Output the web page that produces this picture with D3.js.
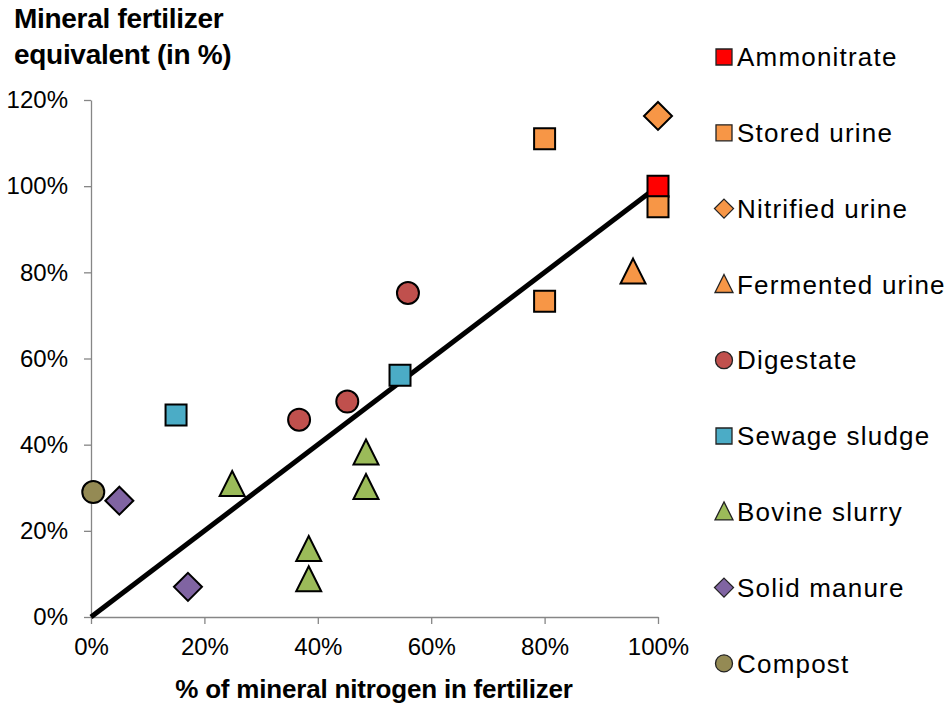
<!DOCTYPE html>
<html>
<head>
<meta charset="utf-8">
<script src="https://cdn.jsdelivr.net/npm/d3@7"></script>
<style>
body { margin: 0; background: #fff; }
text { font-family: "Liberation Sans", Arial, sans-serif; fill: #000; }
</style>
</head>
<body>
<div id="chart"></div>
<script>
var width = 947;
var height = 704;

// series: name, colour, shape
var seriesNames  = ["Ammonitrate", "Stored urine", "Nitrified urine", "Fermented urine", "Digestate", "Sewage sludge", "Bovine slurry", "Solid manure", "Compost"];
var seriesColors = ["#FF0000", "#F79646", "#F79646", "#F79646", "#C0504D", "#4BACC6", "#9BBB59", "#8064A2", "#948A54"];
var seriesShapes = ["square", "square", "diamond", "triangle", "circle", "square", "triangle", "diamond", "circle"];

// points per series: [% mineral N, mineral fertilizer equivalent %]
var ammonitrate    = [[100, 100]];
var storedUrine    = [[80, 111], [80, 73.3], [100, 95.2]];
var nitrifiedUrine = [[100, 116.3]];
var fermentedUrine = [[95.6, 80]];
var digestate      = [[36.7, 45.8], [45.2, 50], [55.9, 75.2]];
var sewageSludge   = [[15, 46.9], [54.5, 56.1]];
var bovineSlurry   = [[24.9, 30.7], [38.4, 15.6], [38.4, 8.6], [48.5, 38], [48.5, 30]];
var solidManure    = [[5, 27], [17.1, 7]];
var compost        = [[0.4, 29]];
var seriesData = [ammonitrate, storedUrine, nitrifiedUrine, fermentedUrine, digestate, sewageSludge, bovineSlurry, solidManure, compost];

var trendLine = [[0, 0], [100, 100]];

var xTicks = [0, 20, 40, 60, 80, 100];
var yTicks = [0, 20, 40, 60, 80, 100, 120];

var svg = d3.select("#chart").append("svg").attr("width", width).attr("height", height);

var x = d3.scaleLinear().domain([0, 100]).range([91, 658]);
var y = d3.scaleLinear().domain([0, 120]).range([617, 100]);

function shapePath(shape, s) {
	// s = full size in px
	var h = s / 2;
	if (shape == "square") return "M" + (-h) + "," + (-h) + "h" + s + "v" + s + "h" + (-s) + "Z";
	if (shape == "diamond") return "M0," + (-h) + "L" + h + ",0L0," + h + "L" + (-h) + ",0Z";
	if (shape == "triangle") return "M0," + (-h * 1.1) + "L" + h + "," + (h * 0.9) + "L" + (-h) + "," + (h * 0.9) + "Z";
	return "M" + h + ",0A" + h + "," + h + " 0 1,1 " + (-h) + ",0A" + h + "," + h + " 0 1,1 " + h + ",0Z";
}
var markerSize = { square: 21, diamond: 28, triangle: 25, circle: 22 };
var legendSize = { square: 16, diamond: 19, triangle: 18, circle: 17 };

// axes
var yAxis = svg.append("g")
	.attr("transform", "translate(" + x(0) + ",0)")
	.call(d3.axisLeft(y).tickValues(yTicks).tickSize(7).tickPadding(16).tickSizeOuter(0)
		.tickFormat(function(d) { return d + "%"; }));
var xAxis = svg.append("g")
	.attr("transform", "translate(0," + y(0) + ")")
	.call(d3.axisBottom(x).tickValues(xTicks).tickSize(7).tickPadding(14).tickSizeOuter(0)
		.tickFormat(function(d) { return d + "%"; }));

svg.selectAll(".domain").attr("stroke", "#868686").attr("stroke-width", 1.3);
svg.selectAll(".tick line").attr("stroke", "#868686").attr("stroke-width", 1.3);
svg.selectAll(".tick text").style("font-size", "24px").attr("fill", "#000")
	.style("font-family", "'Liberation Sans', Arial, sans-serif");

// trend line
svg.append("path")
	.datum(trendLine)
	.attr("d", d3.line().x(function(d) { return x(d[0]); }).y(function(d) { return y(d[1]); }))
	.attr("stroke", "#000")
	.attr("stroke-width", 5)
	.attr("fill", "none");

// markers
seriesData.forEach(function(pts, i) {
	var shape = seriesShapes[i];
	svg.append("g").selectAll("path")
		.data(pts)
		.enter().append("path")
			.attr("d", shapePath(shape, markerSize[shape]))
			.attr("transform", function(d) { return "translate(" + x(d[0]) + "," + y(d[1]) + ")"; })
			.attr("fill", seriesColors[i])
			.attr("stroke", "#000")
			.attr("stroke-width", 2);
});

// legend
var legend = svg.append("g")
	.selectAll("g")
	.data(seriesNames)
	.enter().append("g")
		.attr("transform", function(d, i) { return "translate(724," + (57 + i * 75.8) + ")"; });

legend.append("path")
	.attr("d", function(d, i) { return shapePath(seriesShapes[i], legendSize[seriesShapes[i]]); })
	.attr("fill", function(d, i) { return seriesColors[i]; })
	.attr("stroke", "#222")
	.attr("stroke-width", 1.3);

legend.append("text")
	.attr("x", 13)
	.attr("dy", "0.35em")
	.style("font-size", "26px")
	.style("letter-spacing", "1.2px")
	.text(function(d) { return d; });

// titles
svg.append("text")
	.attr("x", 14).attr("y", 28)
	.style("font-size", "28px").style("font-weight", "bold")
	.style("letter-spacing", "-0.3px")
	.text("Mineral fertilizer");
svg.append("text")
	.attr("x", 14).attr("y", 64)
	.style("font-size", "28px").style("font-weight", "bold")
	.style("letter-spacing", "-0.3px")
	.text("equivalent (in %)");
svg.append("text")
	.attr("x", 374).attr("y", 698)
	.attr("text-anchor", "middle")
	.style("font-size", "26px").style("font-weight", "bold")
	.style("letter-spacing", "-0.2px")
	.text("% of mineral nitrogen in fertilizer");
</script>
</body>
</html>
